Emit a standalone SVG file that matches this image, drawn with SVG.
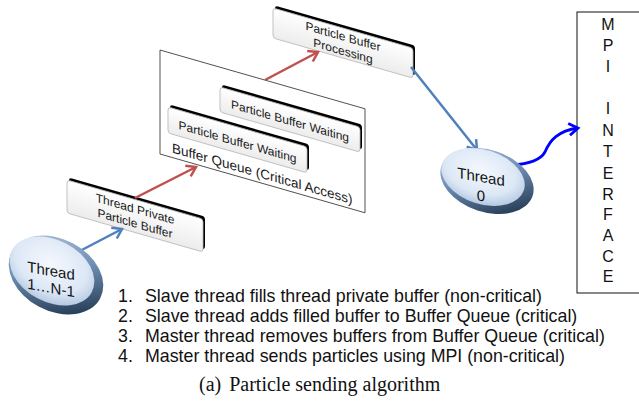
<svg xmlns="http://www.w3.org/2000/svg" width="639" height="404" viewBox="0 0 639 404">
<defs>
<style>
.bt{font-family:"Liberation Sans",Arial,sans-serif;font-size:12px;text-anchor:middle;fill:#1a1a1a}
.bq{font-family:"Liberation Sans",Arial,sans-serif;font-size:13.5px;fill:#1a1a1a}
.et{font-family:"Liberation Sans",Arial,sans-serif;font-size:15px;text-anchor:middle;fill:#111}
.mpi{font-family:"Liberation Sans",Arial,sans-serif;font-size:16px;text-anchor:middle;fill:#111}
.lst{font-family:"Liberation Sans",Arial,sans-serif;font-size:17.8px;fill:#111}
.cap{font-family:"Liberation Serif","Times New Roman",serif;font-size:20px;fill:#111}
.shadow{fill:#000}
.box{fill:url(#boxg);stroke:#b8b8b8;stroke-width:0.8}
.ab{fill:none;stroke:#4f81bd;stroke-width:2.5}
.ar{fill:none;stroke:#c0504d;stroke-width:2.5}
</style>
<linearGradient id="boxg" x1="0" y1="0" x2="0" y2="1">
<stop offset="0" stop-color="#ffffff"/>
<stop offset="1" stop-color="#ececec"/>
</linearGradient>
<linearGradient id="rim" x1="0" y1="0" x2="1" y2="1">
<stop offset="0" stop-color="#b9cde6"/>
<stop offset="0.45" stop-color="#6f8fb4"/>
<stop offset="1" stop-color="#0f2238"/>
</linearGradient>
<radialGradient id="face" cx="0.45" cy="0.4" r="0.6">
<stop offset="0" stop-color="#f4f8fd"/>
<stop offset="0.7" stop-color="#dde8f6"/>
<stop offset="1" stop-color="#b8cbe3"/>
</radialGradient>
<marker id="mb" markerUnits="userSpaceOnUse" markerWidth="16" markerHeight="16" viewBox="0 0 16 16" refX="12" refY="8" orient="auto">
<path d="M3,2 L12,8 L3,14" fill="none" stroke="#4f81bd" stroke-width="2.5"/>
</marker>
<marker id="mr" markerUnits="userSpaceOnUse" markerWidth="16" markerHeight="16" viewBox="0 0 16 16" refX="12" refY="8" orient="auto">
<path d="M3,2 L12,8 L3,14" fill="none" stroke="#c0504d" stroke-width="2.5"/>
</marker>
<marker id="mk" markerUnits="userSpaceOnUse" markerWidth="16" markerHeight="16" viewBox="0 0 16 16" refX="12" refY="8" orient="auto">
<path d="M3,2 L12,8 L3,14" fill="none" stroke="#0000ff" stroke-width="2.8"/>
</marker>
</defs>
<rect width="639" height="404" fill="#fff"/>

<g id="bufferQueue" transform="translate(160,50) skewY(16)">
<rect x="0" y="0" width="205" height="104" fill="#fff" stroke="#333" stroke-width="0.8"/>
<text class="bq" x="12" y="99">Buffer Queue (Critical Access)</text>
</g>

<g id="waiting2" transform="translate(220,87) skewY(16)">
<rect class="shadow" x="2" y="-3" width="140" height="25" rx="3"/>
<rect class="box" x="0" y="0" width="140" height="25" rx="3"/>
<text class="bt" x="70" y="18">Particle Buffer Waiting</text>
</g>

<g id="waiting1" transform="translate(168,107) skewY(16)">
<rect class="shadow" x="2" y="-3" width="139" height="26" rx="3"/>
<rect class="box" x="0" y="0" width="139" height="26" rx="3"/>
<text class="bt" x="69.5" y="19">Particle Buffer Waiting</text>
</g>

<g id="privateBuffer" transform="translate(67,180) skewY(16)">
<rect class="shadow" x="2" y="-3" width="136" height="33" rx="3"/>
<rect class="box" x="0" y="0" width="136" height="33" rx="3"/>
<text class="bt" x="68" y="13.5">Thread Private</text>
<text class="bt" x="68" y="28">Particle Buffer</text>
</g>

<g id="processing" transform="translate(273,8) skewY(16)">
<rect class="shadow" x="2" y="-3" width="140" height="30" rx="3"/>
<rect class="box" x="0" y="0" width="140" height="30" rx="3"/>
<text class="bt" x="70" y="12.5">Particle Buffer</text>
<text class="bt" x="70" y="27">Processing</text>
</g>

<g id="mpi">
<rect x="577" y="12" width="70" height="281" fill="#fff" stroke="#111" stroke-width="1"/>
<text class="mpi" x="608" y="30">M</text>
<text class="mpi" x="608" y="51">P</text>
<text class="mpi" x="608" y="72">I</text>
<text class="mpi" x="608" y="114">I</text>
<text class="mpi" x="608" y="136">N</text>
<text class="mpi" x="608" y="157">T</text>
<text class="mpi" x="608" y="179">E</text>
<text class="mpi" x="608" y="200">R</text>
<text class="mpi" x="608" y="220">F</text>
<text class="mpi" x="608" y="241">A</text>
<text class="mpi" x="608" y="262">C</text>
<text class="mpi" x="608" y="282">E</text>
</g>

<g id="connectors">
<line class="ab" x1="76" y1="253" x2="122" y2="229" marker-end="url(#mb)"/>
<line class="ar" x1="135" y1="198" x2="196" y2="167" marker-end="url(#mr)"/>
<line class="ar" x1="265" y1="80" x2="318" y2="52" marker-end="url(#mr)"/>
<line class="ab" x1="411" y1="67" x2="477" y2="150" marker-end="url(#mb)"/>
<path d="M512,165 C528,164 540,161 545,152 C550,140 558,131 578,128" fill="none" stroke="#0000ff" stroke-width="2.8" marker-end="url(#mk)"/>
</g>

<g id="thread1">
<ellipse cx="56" cy="275" rx="50" ry="36" transform="rotate(28 56 275)" fill="url(#rim)"/>
<ellipse cx="52" cy="271" rx="45" ry="31" transform="rotate(28 52 271)" fill="url(#face)"/>
<g transform="translate(51,280) skewY(10)">
<text class="et" x="0" y="-4">Thread</text>
<text class="et" x="0" y="13">1…N-1</text>
</g>
</g>

<g id="thread0">
<ellipse cx="487" cy="181" rx="48" ry="31" transform="rotate(18 487 181)" fill="url(#rim)"/>
<ellipse cx="483" cy="177" rx="43" ry="27" transform="rotate(18 483 177)" fill="url(#face)"/>
<g transform="translate(481,186) skewY(10)">
<text class="et" x="0" y="-4">Thread</text>
<text class="et" x="0" y="15">0</text>
</g>
</g>

<g id="legend">
<text class="lst" x="118" y="302">1.<tspan x="145">Slave thread fills thread private buffer (non-critical)</tspan></text>
<text class="lst" x="118" y="322">2.<tspan x="145">Slave thread adds filled buffer to Buffer Queue (critical)</tspan></text>
<text class="lst" x="118" y="342">3.<tspan x="145">Master thread removes buffers from Buffer Queue (critical)</tspan></text>
<text class="lst" x="118" y="362">4.<tspan x="145">Master thread sends particles using MPI (non-critical)</tspan></text>
<text class="cap" x="199" y="391">(a)<tspan dx="8">Particle sending algorithm</tspan></text>
</g>
</svg>
